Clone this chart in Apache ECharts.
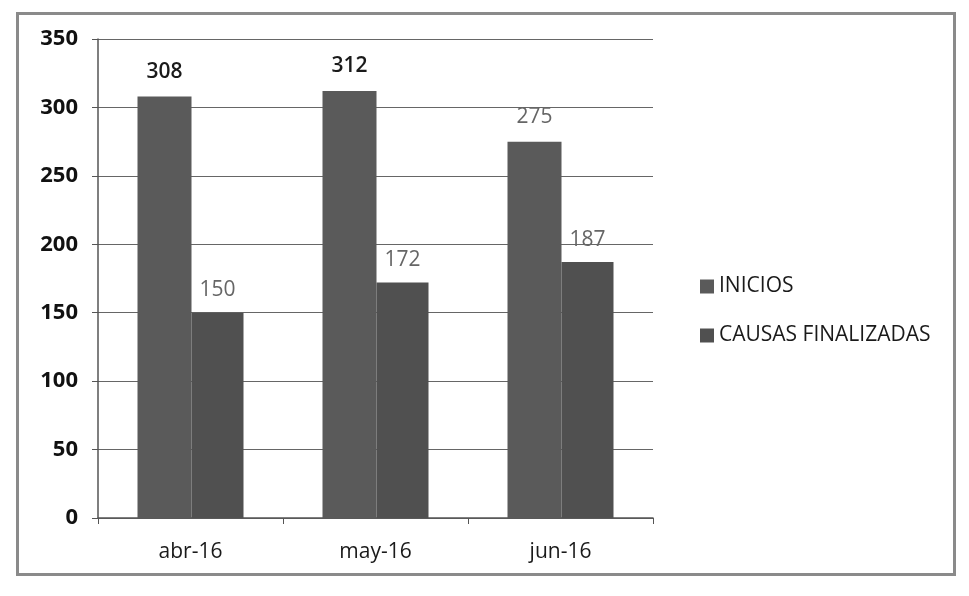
<!DOCTYPE html>
<html>
<head>
<meta charset="utf-8">
<script src="https://cdn.jsdelivr.net/npm/echarts@6/dist/echarts.min.js"></script>
<style>
  html, body { margin: 0; padding: 0; background: #fff; }
  #chart-container {
    position: absolute; left: 16px; top: 12px; width: 940px; height: 564px;
    border: 3px solid #8a8a8a; box-sizing: border-box;
  }
</style>
</head>
<body>
<div id="chart-container"></div>
<script>
// 数据
const months = ['abr-16', 'may-16', 'jun-16'];
const inicios = [308, 312, 275];
const causasFinalizadas = [150, 172, 187];
const yTicks = [0, 50, 100, 150, 200, 250, 300, 350];

const chart = echarts.init(document.getElementById('chart-container'));

// 前两个标签较深（扫描件中更清晰）
const iniciosData = inicios.map((v, i) => ({
  value: v,
  label: i < 2 ? { color: '#1a1a1a', fontWeight: 600 } : { color: '#666' }
}));

const option = {
  animation: false,
  textStyle: { fontFamily: 'Open Sans, sans-serif' },
  grid: {
    left: 79,
    right: 300,
    top: 24,
    bottom: 55
  },
  legend: {
    orient: 'vertical',
    left: 676,
    top: 256,
    itemGap: 28,
    itemWidth: 14,
    itemHeight: 14,
    itemTextGap: 6,
    icon: 'rect',
    textStyle: { fontSize: 21, color: '#1a1a1a' },
    data: ['INICIOS', 'CAUSAS FINALIZADAS']
  },
  xAxis: {
    type: 'category',
    data: months,
    axisLine: { lineStyle: { color: '#555', width: 1.5 } },
    axisTick: { show: true, length: 6, lineStyle: { color: '#555' } },
    axisLabel: { fontSize: 21, color: '#1a1a1a', margin: 24 }
  },
  yAxis: {
    type: 'value',
    min: yTicks[0],
    max: yTicks[yTicks.length - 1],
    interval: 50,
    axisLine: { show: true, lineStyle: { color: '#555', width: 1.5 } },
    axisTick: { show: true, length: 6, lineStyle: { color: '#555' } },
    axisLabel: { fontSize: 22, color: '#111', fontWeight: 'bold', margin: 20 },
    splitLine: { lineStyle: { color: '#666', width: 1.2 } }
  },
  series: [
    {
      name: 'INICIOS',
      type: 'bar',
      data: iniciosData,
      barWidth: 54,
      barGap: '0%',
      itemStyle: { color: '#5a5a5a' },
      label: { show: true, position: 'top', fontSize: 21, distance: 14 }
    },
    {
      name: 'CAUSAS FINALIZADAS',
      type: 'bar',
      data: causasFinalizadas,
      barWidth: 52,
      itemStyle: { color: '#505050' },
      label: { show: true, position: 'top', fontSize: 21, color: '#666', distance: 12 }
    }
  ]
};

chart.setOption(option);
</script>
</body>
</html>
